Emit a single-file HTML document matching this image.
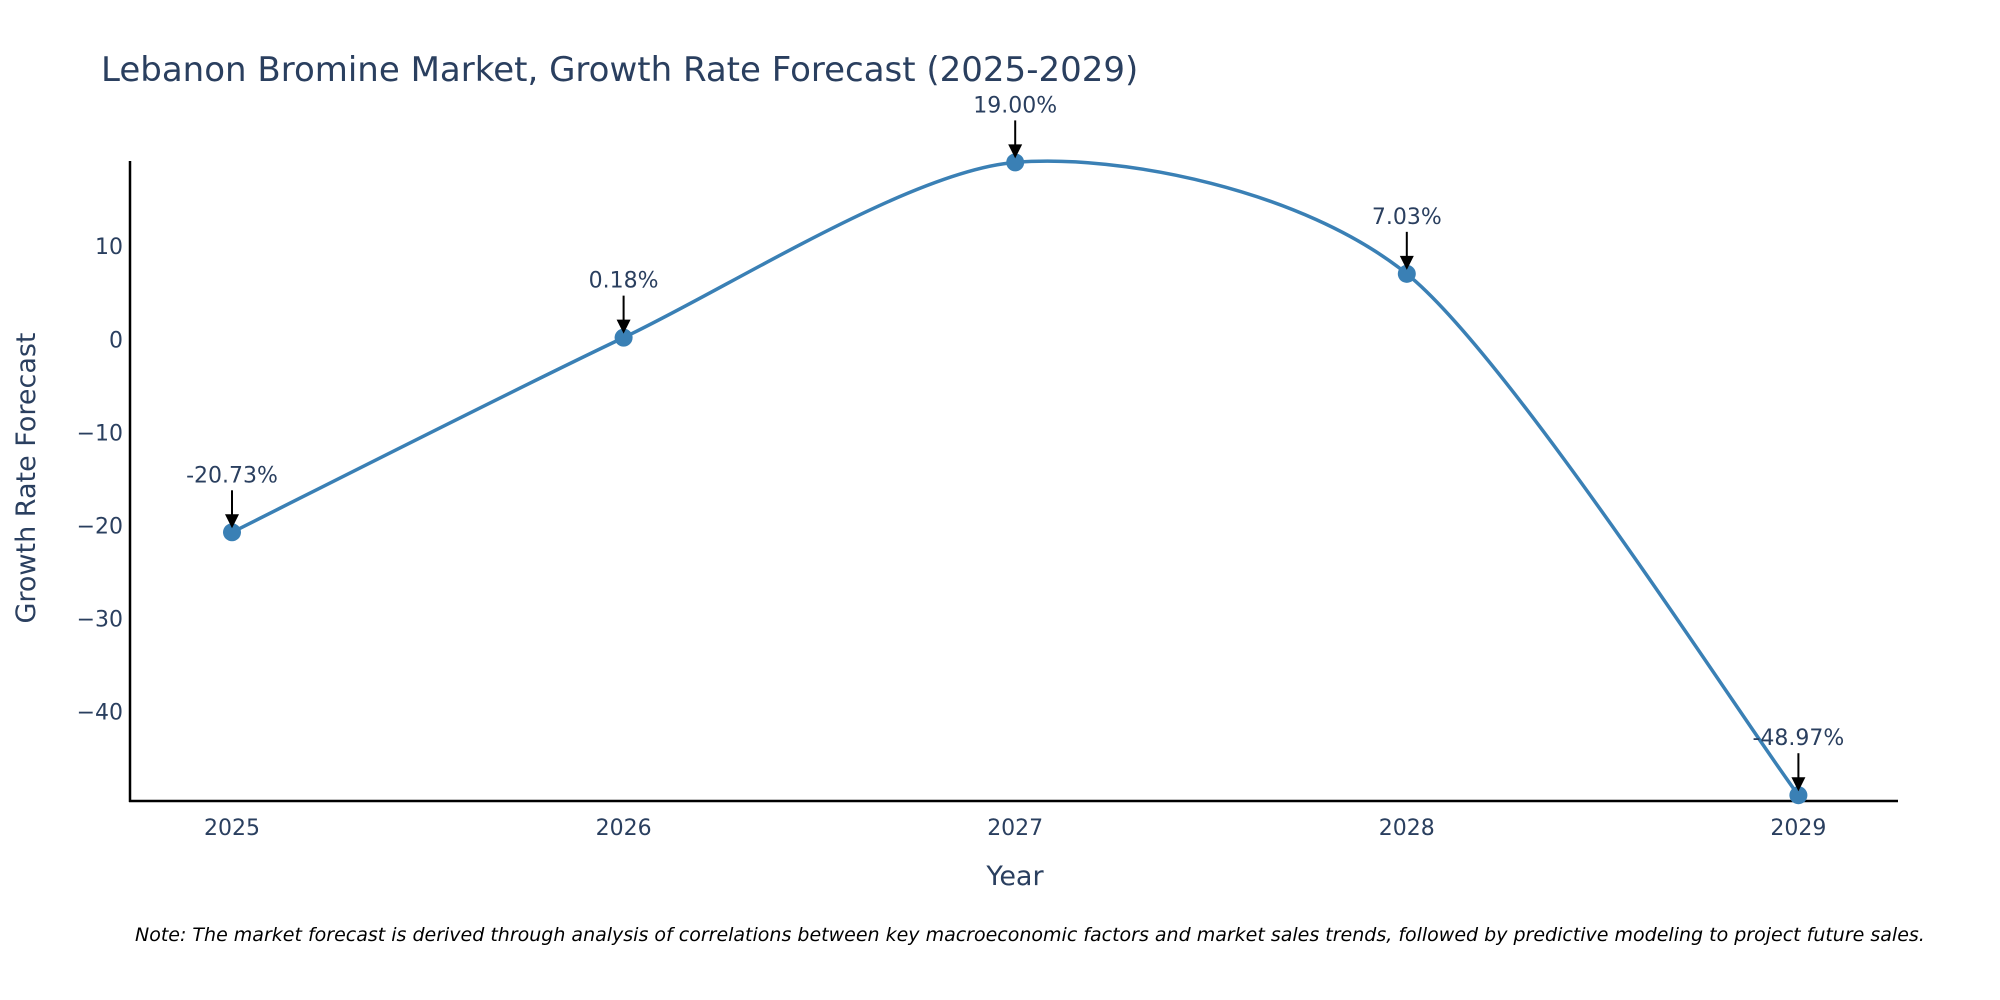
<!DOCTYPE html>
<html><head><meta charset="utf-8"><style>
body{margin:0;background:#fff;}
svg{display:block;font-family:"DejaVu Sans","Liberation Sans",sans-serif;}
</style></head><body>
<svg width="2000" height="1000" viewBox="0 0 2000 1000">
<text x="101" y="81" font-size="34" fill="#2a3f5f">Lebanon Bromine Market, Growth Rate Forecast (2025-2029)</text>
<g id="yticks"></g>
<g id="xticks"></g>
<line x1="130" y1="161" x2="130" y2="802" stroke="#000" stroke-width="2.5"/>
<line x1="129" y1="801" x2="1898" y2="801" stroke="#000" stroke-width="2.5"/>
<path id="line" fill="none" stroke="#3a80b5" stroke-width="3.5"/>
<g id="marks"></g>
<g id="ann"></g>
<text x="1015" y="885" font-size="27" fill="#2a3f5f" text-anchor="middle">Year</text>
<text transform="translate(35,478) rotate(-90)" font-size="27" fill="#2a3f5f" text-anchor="middle">Growth Rate Forecast</text>
<text x="135" y="941" font-size="19" font-style="italic" fill="#000">Note: The market forecast is derived through analysis of correlations between key macroeconomic factors and market sales trends, followed by predictive modeling to project future sales.</text>
</svg>
<script>
const years=[2025,2026,2027,2028,2029];
const values=[-20.73,0.18,19.00,7.03,-48.97];
const labels=["-20.73%","0.18%","19.00%","7.03%","-48.97%"];
const yTicks=[10,0,-10,-20,-30,-40];
const NS="http://www.w3.org/2000/svg";
function X(v){return 232+(v-2025)*391.6;}
function Y(v){return 339.3-v*9.31;}
function mk(t,a,p){const e=document.createElementNS(NS,t);for(const k in a)e.setAttribute(k,a[k]);p.appendChild(e);return e;}
const yt=document.getElementById('yticks');
yTicks.forEach(v=>{const t=mk('text',{x:123,y:Y(v)+8,'font-size':22,fill:'#2a3f5f','text-anchor':'end'},yt);


t.textContent=v<0?'\u2212'+(-v):String(v);});
const xt=document.getElementById('xticks');
years.forEach(v=>{const t=mk('text',{x:X(v),y:835,'font-size':22,fill:'#2a3f5f','text-anchor':'middle'},xt);


t.textContent=v;});
const pts=years.map((y,i)=>[X(y),Y(values[i])]);
let d='M'+pts[0][0]+','+pts[0][1];
for(let i=0;i<pts.length-1;i++){const p0=pts[Math.max(i-1,0)],p1=pts[i],p2=pts[i+1],p3=pts[Math.min(i+2,pts.length-1)];
const s=7.5;const c1=[p1[0]+(p2[0]-p0[0])/s,p1[1]+(p2[1]-p0[1])/s],c2=[p2[0]-(p3[0]-p1[0])/s,p2[1]-(p3[1]-p1[1])/s];
d+=' C'+c1+' '+c2+' '+p2;}
document.getElementById('line').setAttribute('d',d);
const mg=document.getElementById('marks'),ag=document.getElementById('ann');
pts.forEach((p,i)=>{const c=mk('circle',{cx:p[0],cy:p[1],r:9,fill:'#3a80b5'},mg);


const l=mk('line',{x1:p[0],y1:p[1]-42,x2:p[0],y2:p[1]-14,stroke:'#000','stroke-width':2},ag);


const h=mk('polygon',{points:`${p[0]-7},${p[1]-18} ${p[0]+7},${p[1]-18} ${p[0]},${p[1]-4}`,fill:'#000'},ag);


const t=mk('text',{x:p[0],y:p[1]-50,'font-size':22,fill:'#2a3f5f','text-anchor':'middle'},ag);


t.textContent=labels[i];});
</script>
</body></html>
